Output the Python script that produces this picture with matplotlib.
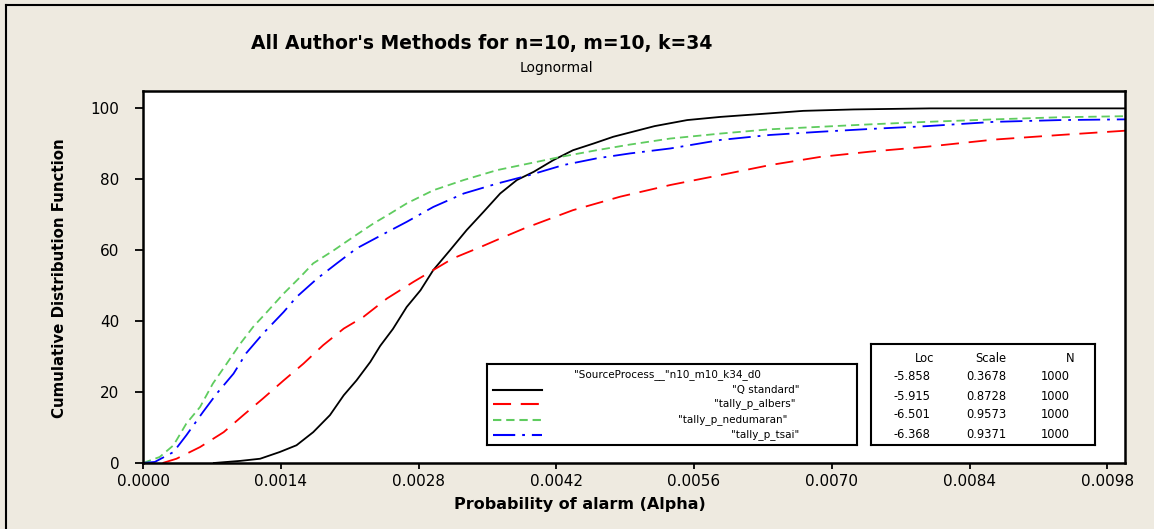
import matplotlib
matplotlib.use("Agg")
import matplotlib.pyplot as plt

# Probability of alarm (x) vs cumulative percent (y)
q_std_x = [0.00072, 0.00099, 0.00119, 0.00139, 0.00156, 0.00173, 0.0019, 0.00204,
           0.00217, 0.00231, 0.00241, 0.00254, 0.00268, 0.00282, 0.00295, 0.00312,
           0.00329, 0.00346, 0.00363, 0.0038, 0.00397, 0.00417, 0.00437, 0.00458,
           0.00478, 0.0052, 0.00553, 0.00587, 0.00637, 0.00671, 0.00722, 0.0080, 0.00998]
q_std_y = [0.0, 0.6, 1.2, 3.1, 5.0, 8.7, 13.5, 19.1,
           23.3, 28.5, 33.0, 37.8, 44.0, 48.7, 54.4, 60.0,
           65.7, 70.8, 76.0, 79.8, 82.1, 85.4, 88.2, 90.1,
           92.0, 95.0, 96.7, 97.6, 98.6, 99.3, 99.7, 100.0, 100.0]

albers_x = [0.0002, 0.00034, 0.00058, 0.00082, 0.00102, 0.00122, 0.00143, 0.00163,
            0.00183, 0.00204, 0.00224, 0.00248, 0.00275, 0.00295, 0.00315, 0.00343,
            0.00363, 0.00387, 0.0041, 0.00437, 0.00461, 0.00485, 0.00536, 0.00587,
            0.00637, 0.00688, 0.00739, 0.00797, 0.00865, 0.00932, 0.00998]
albers_y = [0.0, 1.2, 4.5, 8.7, 13.5, 18.2, 23.3, 28.0,
            33.2, 37.9, 41.2, 46.4, 51.1, 54.4, 57.7, 60.9,
            63.3, 66.1, 68.5, 71.3, 73.2, 75.1, 78.4, 81.2,
            84.0, 86.3, 87.8, 89.2, 91.2, 92.5, 93.7]

nedumaran_x = [0.0, 0.00017, 0.00031, 0.00044, 0.00058, 0.00071, 0.00085, 0.00099,
               0.00112, 0.00126, 0.00143, 0.0016, 0.00173, 0.00194, 0.00214, 0.00234,
               0.00251, 0.00268, 0.00295, 0.00326, 0.0036, 0.00393, 0.00424, 0.00461,
               0.00495, 0.00536, 0.00587, 0.00637, 0.00688, 0.00739, 0.00797, 0.00865,
               0.00932, 0.00998]
nedumaran_y = [0.0, 1.7, 5.0, 11.1, 15.8, 22.4, 28.0, 33.7,
               38.4, 42.6, 47.8, 52.5, 56.3, 60.0, 63.8, 67.5,
               70.3, 73.2, 76.9, 79.8, 82.6, 84.5, 86.3, 88.2,
               89.8, 91.5, 92.9, 94.1, 94.8, 95.5, 96.2, 96.9,
               97.5, 97.8]

tsai_x = [0.0, 0.00012, 0.00031, 0.00044, 0.00061, 0.00075, 0.00092, 0.00105,
          0.00122, 0.00143, 0.00156, 0.00177, 0.00197, 0.00217, 0.00244, 0.00268,
          0.00295, 0.00326, 0.0036, 0.00393, 0.00427, 0.00461, 0.00495, 0.00536,
          0.00587, 0.00637, 0.00688, 0.00739, 0.00797, 0.00865, 0.00932, 0.00998]
tsai_y = [0.0, 0.3, 3.1, 7.8, 14.4, 19.6, 25.2, 31.0,
          36.5, 42.6, 46.8, 52.0, 56.3, 60.5, 64.5, 68.0,
          72.2, 76.0, 78.8, 81.2, 84.0, 85.9, 87.3, 88.7,
          91.1, 92.5, 93.4, 94.2, 95.0, 96.2, 96.7, 96.9]

series_names = ['"Q standard"', '"tally_p_albers"', '"tally_p_nedumaran"', '"tally_p_tsai"']
loc_vals = ["-5.858", "-5.915", "-6.501", "-6.368"]
scale_vals = ["0.3678", "0.8728", "0.9573", "0.9371"]
n_vals = ["1000", "1000", "1000", "1000"]

x_ticks = [0.0, 0.0014, 0.0028, 0.0042, 0.0056, 0.0070, 0.0084, 0.0098]
y_ticks = [0, 20, 40, 60, 80, 100]

bg = "#eeeae0"
plt.rcParams["lines.scale_dashes"] = False
styles = [
    dict(color="black", linestyle="-"),
    dict(color="#ff0000", linestyle=(0, (13, 7))),
    dict(color="#5fcc5f", linestyle=(0, (6, 3.5))),
    dict(color="#0000ff", linestyle=(0, (16, 5, 2, 5))),
]

fig = plt.figure(figsize=(11.54, 5.29), dpi=100, facecolor=bg)
ax = fig.add_axes([143 / 1154, 1 - 463 / 529, 982 / 1154, 372 / 529])

data = [(q_std_x, q_std_y), (albers_x, albers_y), (nedumaran_x, nedumaran_y), (tsai_x, tsai_y)]
for (xs, ys), st in zip(data, styles):
    ax.plot(xs, ys, lw=1.3, **st)

ax.set_xlim(0, 0.00998)
ax.set_ylim(0, 104.9)
ax.set_xticks(x_ticks)
ax.set_xticklabels([f"{v:.4f}" for v in x_ticks])
ax.set_yticks(y_ticks)
ax.tick_params(axis="x", length=4, width=1.3, labelsize=11, pad=4)
ax.tick_params(axis="y", length=6, width=1.3, labelsize=11, pad=11)
for s in ax.spines.values():
    s.set_linewidth(1.8)

fig.text(482 / 1154, 1 - 44 / 529, "All Author's Methods for n=10, m=10, k=34",
         ha="center", va="center", fontsize=13.5, fontweight="bold")
fig.text(556 / 1154, 1 - 68 / 529, "Lognormal", ha="center", va="center", fontsize=10)
fig.text(580 / 1154, 1 - 505 / 529, "Probability of alarm (Alpha)",
         ha="center", va="center", fontsize=11.5, fontweight="bold")
fig.text(60 / 1154, 1 - 278 / 529, "Cumulative Distribution Function", rotation=90,
         ha="center", va="center", fontsize=10.8, fontweight="bold")

# legend box
lg = fig.add_axes([486.7 / 1154, 1 - 445 / 529, 370 / 1154, 81 / 529])
lg.set_xlim(0, 370)
lg.set_ylim(81, 0)
lg.set_xticks([])
lg.set_yticks([])
for s in lg.spines.values():
    s.set_linewidth(1.5)
lg.text(181, 11, '"SourceProcess__"n10_m10_k34_d0', ha="center", va="center", fontsize=7.5)
rows = [26, 40, 56, 71]
label_right = [313, 309, 301, 313]
for name, st, yy, xr in zip(series_names, styles, rows, label_right):
    lg.plot([6, 55], [yy, yy], lw=1.5, **st)
    lg.text(xr, yy, name, ha="right", va="center", fontsize=7.5)

# parameter table
tb = fig.add_axes([870.7 / 1154, 1 - 445.3 / 529, 224.6 / 1154, 101.3 / 529])
tb.set_xlim(0, 224.6)
tb.set_ylim(101.3, 0)
tb.set_xticks([])
tb.set_yticks([])
for s in tb.spines.values():
    s.set_linewidth(1.5)
for txt, xr in zip(["Loc", "Scale", "N"], [64, 136, 204]):
    tb.text(xr, 14, txt, ha="right", va="center", fontsize=8.3)
for i, yy in enumerate([33, 52, 71, 91]):
    tb.text(60, yy, loc_vals[i], ha="right", va="center", fontsize=8.3)
    tb.text(136, yy, scale_vals[i], ha="right", va="center", fontsize=8.3)
    tb.text(199, yy, n_vals[i], ha="right", va="center", fontsize=8.3)

# outer frame lines (top and left)
fig.add_artist(plt.Line2D([6 / 1154, 1], [1 - 5 / 529, 1 - 5 / 529], color="black", lw=1.5))
fig.add_artist(plt.Line2D([6 / 1154, 6 / 1154], [0, 1 - 5 / 529], color="black", lw=1.5))

fig.savefig("out.png", dpi=100, facecolor=bg)
